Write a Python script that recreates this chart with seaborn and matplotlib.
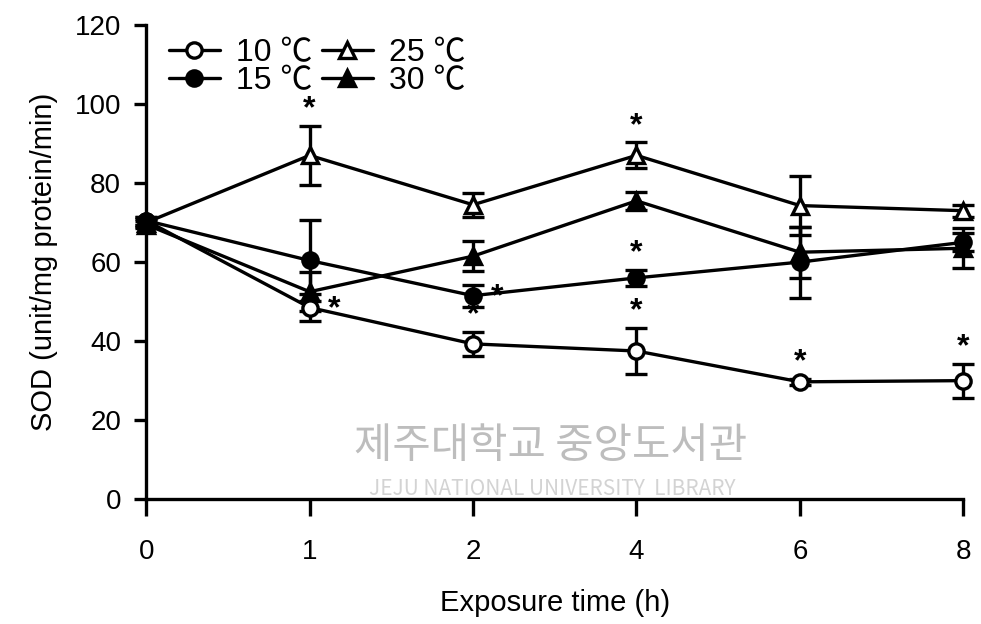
import matplotlib
matplotlib.use("Agg")
from matplotlib import pyplot as plt
import pandas as pd
import seaborn as sns

# exposure times (h) shown as equally spaced categories
times = ["0", "1", "2", "4", "6", "8"]

sod_10 = [70.5, 48.5, 39.3, 37.5, 29.7, 30.0]
err_10 = [1.0, 3.5, 3.0, 5.8, 0.8, 4.3]
sod_15 = [70.5, 60.4, 51.5, 56.0, 60.0, 65.0]
err_15 = [1.0, 10.2, 2.8, 2.0, 9.0, 2.3]
sod_25 = [70.0, 87.0, 74.5, 87.0, 74.3, 73.0]
err_25 = [1.0, 7.5, 3.0, 3.3, 7.5, 1.5]
sod_30 = [69.5, 52.5, 61.5, 75.5, 62.5, 63.5]
err_30 = [1.0, 5.0, 3.8, 2.3, 6.5, 5.0]

series_names = ["10 ℃", "15 ℃", "25 ℃", "30 ℃"]

# significance marks: (series, time index, side)
stars = [
    ("25 ℃", 1, "top"), ("10 ℃", 1, "right"),
    ("15 ℃", 2, "right"), ("10 ℃", 2, "top"),
    ("25 ℃", 3, "top"), ("15 ℃", 3, "top"), ("10 ℃", 3, "top"),
    ("10 ℃", 4, "top"), ("10 ℃", 5, "top"),
]

sns.set_style("ticks")
plt.rcParams["font.family"] = ["Liberation Sans", "Noto Sans CJK KR", "DejaVu Sans"]
plt.rcParams["text.color"] = "black"
plt.rcParams["axes.labelcolor"] = "black"
plt.rcParams["xtick.color"] = "black"
plt.rcParams["ytick.color"] = "black"

df = pd.DataFrame({
    "pos": list(range(len(times))) * 4,
    "sod": sod_10 + sod_15 + sod_25 + sod_30,
    "err": err_10 + err_15 + err_25 + err_30,
    "series": [s for s in series_names for _ in times],
})

styles = {
    "10 ℃": dict(marker="o", markerfacecolor="white"),
    "15 ℃": dict(marker="o", markerfacecolor="black"),
    "25 ℃": dict(marker="^", markerfacecolor="white"),
    "30 ℃": dict(marker="^", markerfacecolor="black"),
}

fig = plt.figure(figsize=(9.81, 6.24), dpi=100)
ax = fig.add_axes([0.149, 0.200, 0.833, 0.760])

for name in series_names:
    d = df[df["series"] == name]
    ax.errorbar(d["pos"], d["sod"], yerr=d["err"], fmt="none", ecolor="black",
                elinewidth=2.4, capsize=8, capthick=2.4, zorder=1, clip_on=False)
    sns.lineplot(x=d["pos"].values, y=d["sod"].values, ax=ax, color="black",
                 linewidth=2.4, markersize=11, markeredgecolor="black",
                 markeredgewidth=2.4, label=name, clip_on=False, zorder=3,
                 **styles[name])

for name, i, side in stars:
    d = df[(df["series"] == name) & (df["pos"] == i)].iloc[0]
    if side == "top":
        ax.annotate("*", (i, d["sod"] + d["err"]), xytext=(0, 1),
                    textcoords="offset points", ha="center", va="bottom",
                    fontsize=23, fontweight="bold")
    else:
        ax.annotate("*", (i, d["sod"]), xytext=(13, -12),
                    textcoords="offset points", ha="left", va="bottom",
                    fontsize=23, fontweight="bold")

# library watermark
ax.text(0.495, 0.112, "제주대학교 중앙도서관", transform=ax.transAxes, ha="center",
        va="center", fontsize=30, color="#bdbdbd", zorder=0,
        family="Noto Sans CJK KR")
ax.text(0.497, 0.022, "JEJU NATIONAL UNIVERSITY  LIBRARY", transform=ax.transAxes,
        ha="center", va="center", fontsize=15, color="#d3d3d3", zorder=0,
        family="Noto Sans CJK KR")

ax.set_xlim(0, len(times) - 1)
ax.set_ylim(0, 120)
ax.set_xticks(range(len(times)))
ax.set_xticklabels(times)
ax.set_yticks(range(0, 121, 20))
ax.tick_params(axis="both", labelsize=20, width=2.4, color="black")
ax.tick_params(axis="y", length=9, pad=9)
ax.tick_params(axis="x", length=12, pad=17)
for sp in ["left", "bottom"]:
    ax.spines[sp].set_linewidth(2.4)
    ax.spines[sp].set_color("black")
sns.despine(ax=ax)

ax.set_xlabel("Exposure time (h)", fontsize=21, labelpad=17)
ax.set_ylabel("SOD (unit/mg protein/min)", fontsize=21, labelpad=12)

ax.legend(loc="upper left", bbox_to_anchor=(0.0, 1.02), ncol=2, frameon=False,
          fontsize=23, handlelength=1.6, handletextpad=0.5, columnspacing=0.3,
          labelspacing=-0.05, borderaxespad=0.3)

fig.savefig("out.png", dpi=100)
